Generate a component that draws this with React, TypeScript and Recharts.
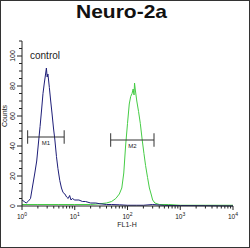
import { Line, LineChart, ReferenceDot, ReferenceLine, XAxis, YAxis } from 'recharts';

// control histogram (FL1-H value, counts)
const controlFl = [1, 1.1, 1.2, 1.3, 1.45, 1.6, 1.75, 1.9, 2.05, 2.2, 2.35, 2.5, 2.65, 2.8, 2.9, 3.0, 3.1, 3.3, 3.5, 3.7, 3.95, 4.2, 4.5, 4.8, 5.2, 5.6, 6.0, 6.5, 7.0, 7.5, 8.0, 8.5, 9.0, 10, 12, 14, 16, 20, 25, 30, 40, 50, 70, 100, 150, 200, 300, 500, 1000, 3000, 10000];
const controlCounts = [4, 3, 2, 3, 5, 14, 22, 30, 42, 53, 64, 75, 82, 88, 92, 86, 88, 79, 70, 62, 52, 44, 33, 25, 17, 12, 9, 8, 6, 5, 7, 4, 5, 4, 4, 3, 3, 2, 2, 1.5, 1, 1, 0.8, 0.5, 0.5, 0.5, 1, 0.4, 0.3, 0.2, 0];

// Neuro-2a sample histogram
const sampleFl = [1, 2, 5, 10, 20, 30, 40, 50, 60, 70, 78, 85, 92, 100, 108, 115, 122, 128, 133, 136, 140, 150, 162, 175, 190, 205, 220, 240, 260, 280, 300, 330, 400, 600, 1000, 3000, 10000];
const sampleCounts = [1, 1, 1, 1, 1, 1.5, 2, 3, 5, 8, 12, 22, 40, 55, 68, 73, 75, 78, 74, 82, 78, 70, 63, 55, 44, 35, 27, 19, 12, 8, 4, 2, 1, 1, 0.5, 0.5, 0.5];

const gateNames = ['M1', 'M2'];
const gateLow = [1.28, 48];
const gateHigh = [6.3, 318];
const gateLevel = [46, 44];

const decades = [1, 10, 100, 1000, 10000];
const countLabels = [0, 20, 40, 60, 80, 100];

const control = controlFl.map((x, i) => ({ x, count: controlCounts[i] }));
const sample = sampleFl.map((x, i) => ({ x, count: sampleCounts[i] }));

const xTicks: number[] = [];
decades.slice(0, -1).forEach((d) => {
  for (let m = 1; m < 10; m++) xTicks.push(d * m);
});
xTicks.push(10000);

const yTicks: number[] = [];
for (let v = 0; v <= 110; v += 5) yTicks.push(v);

const font = '"Liberation Sans", Arial, sans-serif';

function XTick(props: any) {
  const { x, y, payload } = props;
  const major = decades.includes(payload.value);
  const exp = Math.round(Math.log10(payload.value));
  return (
    <g>
      <line x1={x} x2={x} y1={y} y2={y + (major ? 4 : 2.5)} stroke="#222" />
      {major && (
        <text x={x} y={y + 13} textAnchor="middle" fontSize={6.5} fontFamily={font} fill="#111">
          10
          <tspan dy={-3} fontSize={5}>{exp}</tspan>
        </text>
      )}
    </g>
  );
}

function YTick(props: any) {
  const { x, y, payload } = props;
  const major = countLabels.includes(payload.value);
  return (
    <g>
      <line x1={x - (major ? 5 : 3)} x2={x} y1={y} y2={y} stroke="#222" />
      {major && (
        <text
          x={12.5}
          y={y}
          transform={`rotate(-90, 12.5, ${y})`}
          textAnchor="middle"
          dominantBaseline="central"
          fontSize={7}
          fontFamily={font}
          fill="#111"
        >
          {payload.value}
        </text>
      )}
    </g>
  );
}

export default function App() {
  return (
    <div style={{ position: 'absolute', left: 0, top: 0, width: 250, height: 248, background: '#fff' }}>
      <LineChart width={250} height={248} margin={{ top: 41, right: 17, bottom: 0, left: 0 }}>
        <XAxis
          dataKey="x"
          type="number"
          scale="log"
          domain={[1, 10000]}
          allowDataOverflow
          ticks={xTicks}
          interval={0}
          tickSize={0}
          tickMargin={0}
          tickLine={false}
          tick={<XTick />}
          height={42}
          axisLine={{ stroke: '#222' }}
        />
        <XAxis xAxisId="top" orientation="top" type="number" domain={[0, 1]} height={0} tick={false} tickLine={false} axisLine={{ stroke: '#222' }} />
        <YAxis
          type="number"
          domain={[0, 110]}
          ticks={yTicks}
          interval={0}
          tickSize={0}
          tickMargin={0}
          tickLine={false}
          tick={<YTick />}
          width={22}
          axisLine={{ stroke: '#222' }}
        />
        <YAxis yAxisId="right" orientation="right" domain={[0, 1]} width={0} tick={false} tickLine={false} axisLine={{ stroke: '#222' }} />
        <Line data={sample} dataKey="count" type="linear" stroke="#45cc45" strokeWidth={1} dot={false} isAnimationActive={false} />
        <Line data={control} dataKey="count" type="linear" stroke="#1e1e78" strokeWidth={1} dot={false} isAnimationActive={false} />
        {gateNames.map((name, i) => (
          <ReferenceLine
            key={name + 'h'}
            segment={[{ x: gateLow[i], y: gateLevel[i] }, { x: gateHigh[i], y: gateLevel[i] }]}
            stroke="#333"
            strokeWidth={1}
          />
        ))}
        {gateNames.map((name, i) => (
          <ReferenceLine
            key={name + 'l'}
            segment={[{ x: gateLow[i], y: gateLevel[i] - 4.5 }, { x: gateLow[i], y: gateLevel[i] + 4.5 }]}
            stroke="#333"
            strokeWidth={1}
          />
        ))}
        {gateNames.map((name, i) => (
          <ReferenceLine
            key={name + 'r'}
            segment={[{ x: gateHigh[i], y: gateLevel[i] - 4.5 }, { x: gateHigh[i], y: gateLevel[i] + 4.5 }]}
            stroke="#333"
            strokeWidth={1}
          />
        ))}
        {gateNames.map((name, i) => (
          <ReferenceDot
            key={name + 'd'}
            x={Math.sqrt(gateLow[i] * gateHigh[i])}
            y={gateLevel[i]}
            r={1}
            fill="none"
            stroke="none"
            label={{ value: name, position: 'bottom', offset: 3, fontSize: 6, fontFamily: font, fill: '#222' }}
          />
        ))}
      </LineChart>
      <svg width={250} height={248} style={{ position: 'absolute', left: 0, top: 0, pointerEvents: 'none' }}>
        <rect x={0.5} y={0.5} width={249} height={247} fill="none" stroke="#333" />
        <text x={121.5} y={18} textAnchor="middle" fontSize={19} fontWeight="bold" fontFamily={font} textLength={91} lengthAdjust="spacingAndGlyphs" fill="#111">
          Neuro-2a
        </text>
        <text x={30} y={59} fontSize={10} fontFamily={font} fill="#222">control</text>
        <text x={127} y={227} textAnchor="middle" fontSize={7} fontFamily={font} fill="#222">FL1-H</text>
        <text x={4.5} y={116} transform="rotate(-90, 4.5, 116)" textAnchor="middle" dominantBaseline="central" fontSize={7} fontFamily={font} fill="#222">
          Counts
        </text>
      </svg>
    </div>
  );
}
